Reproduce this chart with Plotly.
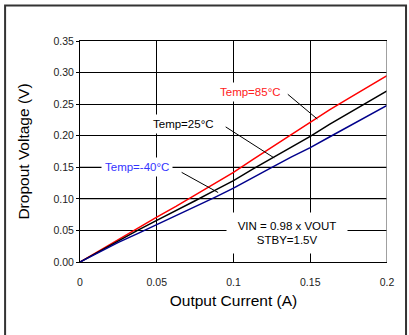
import plotly.graph_objects as go

# output current (A)
current = [0, 0.0125, 0.025, 0.0375, 0.05, 0.0625, 0.075, 0.0875, 0.1,
           0.1125, 0.125, 0.1375, 0.15, 0.1625, 0.175, 0.1875, 0.2]
# dropout voltage (V) per temperature
v_85 = [0, 0.018, 0.0355, 0.053, 0.071, 0.088, 0.106, 0.124, 0.142,
        0.162, 0.182, 0.202, 0.222, 0.241, 0.259, 0.277, 0.295]
v_25 = [0, 0.017, 0.034, 0.050, 0.066, 0.081, 0.097, 0.113, 0.129,
        0.147, 0.164, 0.182, 0.199, 0.218, 0.236, 0.254, 0.271]
v_m40 = [0, 0.0155, 0.031, 0.045, 0.059, 0.074, 0.088, 0.102, 0.117,
         0.134, 0.150, 0.166, 0.181, 0.198, 0.215, 0.232, 0.248]

x_ticks = [0, 0.05, 0.1, 0.15, 0.2]
x_labels = ['0', '0.05', '0.1', '0.15', '0.2']

FONT = 'Liberation Sans, Arial, sans-serif'

fig = go.Figure()
fig.add_trace(go.Scatter(x=current, y=v_85, mode='lines', line=dict(color='#ff0000', width=1.5), name='85'))
fig.add_trace(go.Scatter(x=current, y=v_25, mode='lines', line=dict(color='#000000', width=1.5), name='25'))
fig.add_trace(go.Scatter(x=current, y=v_m40, mode='lines', line=dict(color='#00008b', width=1.5), name='-40'))

# leader lines (no arrowheads) + labels with white boxes
def label(text, x, y, color):
    fig.add_annotation(x=x, y=y, text=text, showarrow=False, bgcolor='white',
                       borderpad=3, font=dict(family=FONT, size=11.5, color=color))

def leader(x, y, ax, ay):
    fig.add_annotation(x=x, y=y, text='', showarrow=True, arrowhead=0, arrowwidth=1,
                       arrowcolor='black', ax=ax, ay=ay)

leader(0.1546, 0.2264, -31, -26)
leader(0.1265, 0.1648, -50, -32)
leader(0.090, 0.110, -38, -21)
label('Temp=85°C', 0.1109, 0.269, '#ff2020')
label('Temp=25°C', 0.0672, 0.2187, 'black')
label('Temp=-40°C', 0.0372, 0.150, '#3333ff')
fig.add_annotation(x=0.135, y=0.0457, text='VIN = 0.98 x VOUT<br>STBY=1.5V', showarrow=False,
                   bgcolor='white', width=118, height=38, align='center',
                   font=dict(family=FONT, size=11.5, color='black'))

fig.update_layout(
    width=409, height=335,
    margin=dict(l=80, r=22, t=41, b=73),
    paper_bgcolor='white', plot_bgcolor='white',
    showlegend=False,
    font=dict(family=FONT, color='#222222'),
    xaxis=dict(range=[0, 0.2], tickvals=x_ticks, ticktext=x_labels, automargin=False,
               showgrid=True, gridcolor='black', gridwidth=1,
               showline=True, linecolor='black', linewidth=1, mirror=True,
               ticks='', ticklabelstandoff=10, zeroline=False,
               tickfont=dict(size=10.5),
               title=dict(text='Output Current (A)', font=dict(size=15.5, color='black'), standoff=8)),
    yaxis=dict(range=[0, 0.35], dtick=0.05, tickformat='.2f', automargin=False,
               showgrid=True, gridcolor='black', gridwidth=1,
               showline=True, linecolor='black', linewidth=1,
               ticks='outside', ticklen=3, tickcolor='black', zeroline=False,
               tickfont=dict(size=10.5),
               title=dict(text='Dropout Voltage (V)', font=dict(size=15.5, color='black'), standoff=20)),
    shapes=[
        dict(type='line', xref='x', yref='y', x0=0.2, x1=0.2, y0=0, y1=0.35,
             line=dict(color='#808080', width=1.5), layer='above'),
        dict(type='line', xref='x', yref='y', x0=0, x1=0.2, y0=0.10, y1=0.10,
             line=dict(color='#808080', width=1.5), layer='below'),
        dict(type='line', xref='x', yref='y', x0=0, x1=0.2, y0=0.15, y1=0.15,
             line=dict(color='#808080', width=1.5), layer='below'),
        dict(type='rect', xref='paper', yref='paper', x0=-0.244, x1=1.062, y0=-0.4, y1=1.161,
             line=dict(color='#333333', width=2), fillcolor='rgba(0,0,0,0)'),
    ],
)

fig.write_html('out.html', config={'displayModeBar': False},
               post_script="document.body.style.margin='0';")
